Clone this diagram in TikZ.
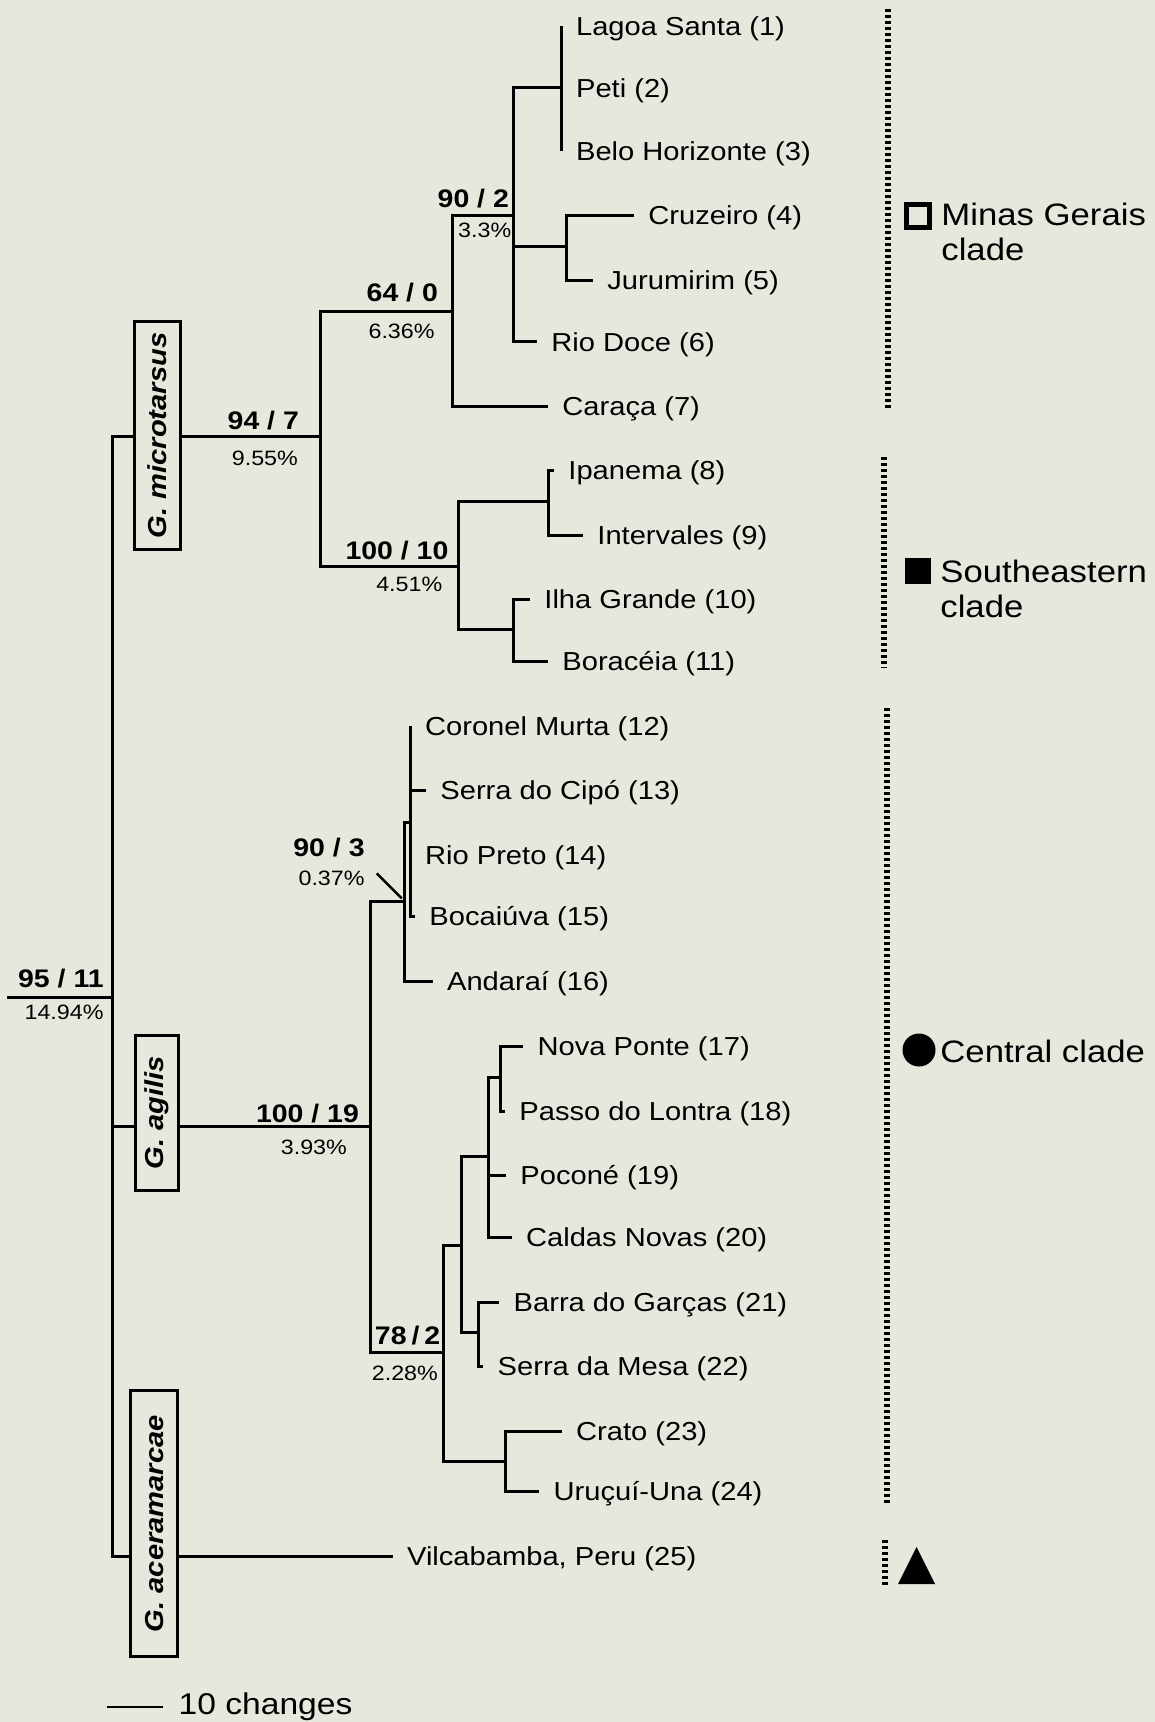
\documentclass[tikz,border=0pt]{standalone}
\usepackage{fontspec}
\newfontfamily\lf{Liberation Sans}[FakeStretch=1.12]
\definecolor{bg}{RGB}{232,231,222}
\begin{document}
\begin{tikzpicture}[x=0.5pt,y=-0.5pt, font=\lf,
  br/.style={line width=1.5pt},
  leaf/.style={anchor=west, inner xsep=7pt, inner ysep=0pt, text height=9.3pt, text depth=0pt, font=\lf\fontsize{13}{15}\selectfont},
  suplab/.style={anchor=base east, inner sep=0pt, font=\lf\bfseries\fontsize{12.7}{14}\selectfont},
  pct/.style={anchor=base east, inner sep=0pt, font=\lf\fontsize{10.4}{12}\selectfont},
  spbox/.style={draw, fill=bg, line width=1.4pt, rotate=90, inner sep=0pt, font=\lf\bfseries\itshape\fontsize{13}{15}\selectfont},
  cladebar/.style={line width=3pt, dash pattern=on 1.6pt off 1.4pt},
  cladetext/.style={anchor=north west, inner sep=0pt, align=left, font=\lf\fontsize{15.5}{17.3}\selectfont}
]
\fill[bg] (0,0) rectangle (1155,1722);
\useasboundingbox (0,0) rectangle (1155,1722);

% leaves
\node[leaf] (lagoa)  at (561.7,26.4)  {Lagoa Santa (1)};
\node[leaf] (peti)   at (561.7,88)    {Peti (2)};
\node[leaf] (belo)   at (561.7,151.5) {Belo Horizonte (3)};
\node[leaf] (cruz)   at (634,215.5)   {Cruzeiro (4)};
\node[leaf] (juru)   at (593,280.5)   {Jurumirim (5)};
\node[leaf] (rdoce)  at (537,342)     {Rio Doce (6)};
\node[leaf] (caraca) at (548,406)     {Caraça (7)};
\node[leaf] (ipan)   at (554,470.5)   {Ipanema (8)};
\node[leaf] (interv) at (583,535.5)   {Intervales (9)};
\node[leaf] (ilha)   at (530,599.5)   {Ilha Grande (10)};
\node[leaf] (borac)  at (548,661)     {Boracéia (11)};
\node[leaf] (coron)  at (410.7,726)   {Coronel Murta (12)};
\node[leaf] (cipo)   at (426,790)     {Serra do Cipó (13)};
\node[leaf] (rpreto) at (410.7,855)   {Rio Preto (14)};
\node[leaf] (bocai)  at (415,916.5)   {Bocaiúva (15)};
\node[leaf] (andar)  at (432.7,981)   {Andaraí (16)};
\node[leaf] (nponte) at (523.3,1046.5){Nova Ponte (17)};
\node[leaf] (passo)  at (505,1111)    {Passo do Lontra (18)};
\node[leaf] (pocone) at (506,1175.5)  {Poconé (19)};
\node[leaf] (caldas) at (511.7,1237)  {Caldas Novas (20)};
\node[leaf] (barra)  at (499.3,1302)  {Barra do Garças (21)};
\node[leaf] (smesa)  at (483.3,1366)  {Serra da Mesa (22)};
\node[leaf] (crato)  at (561.7,1431)  {Crato (23)};
\node[leaf] (urucui) at (539.3,1491)  {Uruçuí-Una (24)};
\node[leaf] (vilca)  at (392.7,1556)  {Vilcabamba, Peru (25)};

% internal nodes
\coordinate (rootstem) at (7.3,997.3);
\coordinate (root) at (112.5,997.3);
\coordinate (M)   at (320,436.7);
\coordinate (N64) at (452.5,311.7);
\coordinate (N90) at (513.3,215.5);
\coordinate (Ncj) at (566,247);
\coordinate (N100) at (458,566);
\coordinate (Nii) at (548.3,501.7);
\coordinate (Nib) at (513.3,629);
\coordinate (A)   at (370.7,1126.7);
\coordinate (N903) at (404,901);
\coordinate (Pc)  at (410.7,822.7);
\coordinate (N78) at (443.3,1352.7);
\coordinate (Nup) at (461.7,1245);
\coordinate (Nnp) at (488.3,1156);
\coordinate (Npp) at (500,1077.3);
\coordinate (Nbs) at (478.3,1332.7);
\coordinate (Ncu) at (505,1461.7);

% branches
\draw[br] (rootstem) -- (root);
\draw[br] (root) |- (M);
\draw[br] (root) |- (A);
\draw[br] (root) |- (vilca.west);
\draw[br] (M) |- (N64);
\draw[br] (M) |- (N100);
\draw[br] (N64) |- (N90);
\draw[br] (N64) |- (caraca.west);
\draw[br] (N90) |- (peti.west);
\draw[br] (N90) |- (Ncj);
\draw[br] (N90) |- (rdoce.west);
\draw[br] (lagoa.west) -- (belo.west);
\draw[br] (Ncj) |- (cruz.west);
\draw[br] (Ncj) |- (juru.west);
\draw[br] (N100) |- (Nii);
\draw[br] (N100) |- (Nib);
\draw[br] (Nii) |- (ipan.west);
\draw[br] (Nii) |- (interv.west);
\draw[br] (Nib) |- (ilha.west);
\draw[br] (Nib) |- (borac.west);
\draw[br] (A) |- (N903);
\draw[br] (A) |- (N78);
\draw[br] (N903) |- (Pc);
\draw[br] (N903) |- (andar.west);
\draw[br] (coron.west) -- (rpreto.west);
\draw[br] (coron.west) |- (cipo.west);
\draw[br] (coron.west) |- (bocai.west);
\draw[br] (N78) |- (Nup);
\draw[br] (N78) |- (Ncu);
\draw[br] (Nup) |- (Nnp);
\draw[br] (Nup) |- (Nbs);
\draw[br] (Nnp) |- (Npp);
\draw[br] (Nnp) |- (pocone.west);
\draw[br] (Nnp) |- (caldas.west);
\draw[br] (Npp) |- (nponte.west);
\draw[br] (Npp) |- (passo.west);
\draw[br] (Nbs) |- (barra.west);
\draw[br] (Nbs) |- (smesa.west);
\draw[br] (Ncu) |- (crato.west);
\draw[br] (Ncu) |- (urucui.west);

% pointer for 90/3
\coordinate (ptrA) at (376.7,873.3);
\coordinate (ptrB) at (401.7,898.3);
\draw[line width=1.2pt] (ptrA) -- (ptrB);

% support labels
\node[suplab] (l902) at (509.3,207.3) {90 / 2};
\node[pct] (p902) at (511.7,238) {3.3\%};
\node[suplab] (l640) at (438.3,302) {64 / 0};
\node[pct] (p640) at (435,339) {6.36\%};
\node[suplab] (l947) at (299.3,429) {94 / 7};
\node[pct] (p947) at (298.3,465) {9.55\%};
\node[suplab] (l10010) at (448.8,559.3) {100 / 10};
\node[pct] (p10010) at (442.7,591.7) {4.51\%};
\node[suplab] (l903) at (365,856.7) {90 / 3};
\node[pct] (p903) at (365,885) {0.37\%};
\node[suplab] (l9511) at (104,987.7) {95 / 11};
\node[pct] (p9511) at (104,1019.3) {14.94\%};
\node[suplab] (l10019) at (359.3,1122.7) {100 / 19};
\node[pct] (p10019) at (347.3,1154) {3.93\%};
\node[suplab] (l782) at (440.7,1344) {78\hspace{2.5pt}/\hspace{2.5pt}2};
\node[pct] (p782) at (438.3,1380) {2.28\%};

% species boxes
\node[spbox, minimum width=114pt, minimum height=23pt] (gmic) at (157.5,435.5) {G. microtarsus};
\node[spbox, minimum width=77.6pt, minimum height=21.5pt] (gagi) at (157.2,1113) {G. agilis};
\node[spbox, minimum width=133pt, minimum height=23.5pt] (gace) at (154.2,1523.7) {G. aceramarcae};

% clade bars
\draw[cladebar] (887.5,9) -- (887.5,409);
\draw[cladebar] (884,457) -- (884,668);
\draw[cladebar] (887,708) -- (887,1504);
\draw[cladebar] (884.5,1540) -- (884.5,1585);

% clade symbols and labels
\node[draw, line width=2.4pt, minimum size=11.45pt, inner sep=0pt] (sqo) at (917.8,215.8) {};
\node[fill, minimum size=13pt, inner sep=0pt] (sqf) at (917.5,571) {};
\node[circle, fill, minimum size=16.5pt, inner sep=0pt] (circ) at (919,1050) {};
\fill (916.5,1547) -- (935,1584) -- (898,1584) -- cycle;
\node[cladetext] (mg) at (941,203) {Minas Gerais\\clade};
\node[cladetext] (se) at (940,560) {Southeastern\\clade};
\node[cladetext] (ce) at (940,1039.5) {Central clade};

% scale bar
\coordinate (sbA) at (107.3,1707);
\coordinate (sbB) at (162.7,1707);
\draw[line width=1.2pt] (sbA) -- (sbB);
\node[anchor=base west, inner sep=0pt, font=\lf\fontsize{15}{17}\selectfont] (sbt) at (178.3,1714.5) {10 changes};
\end{tikzpicture}
\end{document}
